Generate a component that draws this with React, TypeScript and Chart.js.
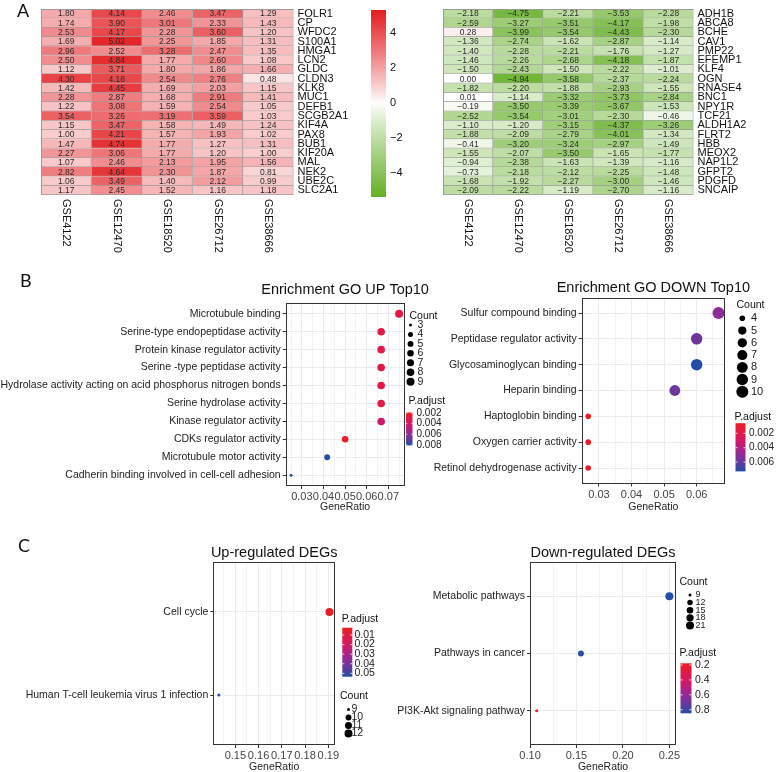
import React, { useEffect, useRef } from 'react';
import { Chart, registerables } from 'chart.js';

Chart.register(...registerables);

const FONT = '"Liberation Sans", Arial, Helvetica, sans-serif';
Chart.defaults.font.family = FONT;

// ---------------- Panel A data ----------------
const studies = ['GSE4122', 'GSE12470', 'GSE18520', 'GSE26712', 'GSE38666'];

const upGenes = ['FOLR1', 'CP', 'WFDC2', 'S100A1', 'HMGA1', 'LCN2', 'GLDC', 'CLDN3', 'KLK8', 'MUC1', 'DEFB1', 'SCGB2A1', 'KIF4A', 'PAX8', 'BUB1', 'KIF20A', 'MAL', 'NEK2', 'UBE2C', 'SLC2A1'];
const upGSE4122 = [1.80, 1.74, 2.53, 1.69, 2.96, 2.50, 1.12, 4.30, 1.42, 2.28, 1.22, 3.54, 1.15, 1.00, 1.47, 2.27, 1.07, 2.82, 1.06, 1.17];
const upGSE12470 = [4.14, 3.90, 4.17, 5.02, 2.52, 4.84, 3.71, 4.18, 4.45, 2.87, 3.08, 3.26, 3.47, 4.21, 4.74, 3.06, 2.46, 4.64, 3.49, 2.45];
const upGSE18520 = [2.46, 3.01, 2.28, 2.25, 3.28, 1.77, 1.80, 2.54, 1.69, 1.68, 1.59, 3.19, 1.58, 1.57, 1.77, 1.77, 2.13, 2.30, 1.40, 1.52];
const upGSE26712 = [3.47, 2.33, 3.60, 1.85, 2.47, 2.60, 1.86, 2.76, 2.03, 2.91, 2.54, 3.59, 1.49, 1.93, 1.27, 1.20, 1.95, 1.87, 2.12, 1.16];
const upGSE38666 = [1.29, 1.43, 1.20, 1.31, 1.35, 1.08, 1.66, 0.48, 1.15, 1.41, 1.05, 1.03, 1.24, 1.02, 1.31, 1.00, 1.56, 0.81, 0.99, 1.18];

const downGenes = ['ADH1B', 'ABCA8', 'BCHE', 'CAV1', 'PMP22', 'EFEMP1', 'KLF4', 'OGN', 'RNASE4', 'BNC1', 'NPY1R', 'TCF21', 'ALDH1A2', 'FLRT2', 'HBB', 'MEOX2', 'NAP1L2', 'GFPT2', 'PDGFD', 'SNCAIP'];
const downGSE4122 = [-2.18, -2.59, 0.28, -1.36, -1.40, -1.46, -1.50, 0.00, -1.82, 0.01, -0.19, -2.52, -1.10, -1.88, -0.41, -1.55, -0.94, -0.73, -1.68, -2.09];
const downGSE12470 = [-4.75, -3.27, -3.99, -2.74, -2.28, -2.26, -2.43, -4.94, -2.20, -1.14, -3.50, -3.54, -1.20, -2.09, -3.20, -2.07, -2.38, -2.18, -1.92, -2.22];
const downGSE18520 = [-2.21, -3.51, -3.54, -1.62, -2.21, -2.68, -1.50, -3.58, -1.88, -3.32, -3.39, -3.01, -3.15, -2.79, -3.24, -3.50, -1.63, -2.12, -2.27, -1.19];
const downGSE26712 = [-3.53, -4.17, -4.43, -2.87, -1.76, -4.18, -2.22, -2.37, -2.93, -3.73, -3.67, -2.30, -4.37, -4.01, -2.97, -1.65, -1.39, -2.25, -3.00, -2.70];
const downGSE38666 = [-2.28, -1.98, -2.30, -1.14, -1.27, -1.87, -1.01, -2.24, -1.55, -2.84, -1.53, -0.46, -3.26, -1.34, -1.49, -1.77, -1.16, -1.48, -1.46, -1.16];

const heatTicks = [-4, -2, 0, 2, 4];
const heatLow = -5.4;
const heatHigh = 5.3;

// ---------------- Panel B data ----------------
const goUpTerms = ['Microtubule binding', 'Serine-type endopeptidase activity', 'Protein kinase regulator activity', 'Serine -type peptidase activity', 'Hydrolase activity acting on acid phosphorus nitrogen bonds', 'Serine hydrolase activity', 'Kinase regulator activity', 'CDKs regulator activity', 'Microtubule motor activity', 'Cadherin binding involved in cell-cell adhesion'];
const goUpRatio = [0.075, 0.0667, 0.0667, 0.0667, 0.0667, 0.0667, 0.0667, 0.05, 0.0417, 0.025];
const goUpCount = [9, 8, 8, 8, 8, 8, 8, 6, 5, 3];
const goUpPadj = [0.0030, 0.0030, 0.0030, 0.0030, 0.0030, 0.0030, 0.0042, 0.0019, 0.0081, 0.0081];
const goUpTicks = [0.03, 0.04, 0.05, 0.06, 0.07];
const goUpCountKeys = [3, 4, 5, 6, 7, 8, 9];
const goUpPadjKeys = [0.002, 0.004, 0.006, 0.008];

const goDownTerms = ['Sulfur compound binding', 'Peptidase regulator activity', 'Glycosaminoglycan binding', 'Heparin binding', 'Haptoglobin binding', 'Oxygen carrier activity', 'Retinol dehydrogenase activity'];
const goDownRatio = [0.0667, 0.06, 0.06, 0.0533, 0.0267, 0.0267, 0.0267];
const goDownCount = [10, 9, 9, 8, 4, 4, 4];
const goDownPadj = [0.0050, 0.0057, 0.0073, 0.0058, 0.0006, 0.0006, 0.0009];
const goDownTicks = [0.03, 0.04, 0.05, 0.06];
const goDownCountKeys = [4, 5, 6, 7, 8, 9, 10];
const goDownPadjKeys = [0.002, 0.004, 0.006];

// ---------------- Panel C data ----------------
const keggUpTerms = ['Cell cycle', 'Human T-cell leukemia virus 1 infection'];
const keggUpRatio = [0.1905, 0.1429];
const keggUpCount = [12, 9];
const keggUpPadj = [0.0024, 0.0535];
const keggUpTicks = [0.15, 0.16, 0.17, 0.18, 0.19];
const keggUpCountKeys = [9, 10, 11, 12];
const keggUpPadjKeys = [0.01, 0.02, 0.03, 0.04, 0.05];

const keggDownTerms = ['Metabolic pathways', 'Pathways in cancer', 'PI3K-Akt signaling pathway'];
const keggDownRatio = [0.25, 0.1548, 0.1071];
const keggDownCount = [21, 13, 9];
const keggDownPadj = [0.848, 0.835, 0.177];
const keggDownTicks = [0.10, 0.15, 0.20, 0.25];
const keggDownCountKeys = [9, 12, 15, 18, 21];
const keggDownPadjKeys = [0.2, 0.4, 0.6, 0.8];

// ---------------- helpers ----------------
type Rect = { left: number; top: number; width: number; height: number };
type Area = { x0: number; y0: number; x1: number; y1: number };
type Letter = { text: string; x: number; y: number };

function mixRgb(a: number[], b: number[], t: number) {
  return `rgb(${a.map((v, i) => Math.round(v + (b[i] - v) * t)).join(',')})`;
}
const WHITE = [255, 255, 255];
const HEAT_RED = [228, 28, 32];
const HEAT_GREEN = [100, 176, 38];
function heatColor(v: number) {
  if (v >= 0) return mixRgb(WHITE, HEAT_RED, Math.pow(Math.min(v / heatHigh, 1), 0.9));
  return mixRgb(WHITE, HEAT_GREEN, Math.pow(Math.min(v / heatLow, 1), 0.9));
}
function fmtSigned(v: number, d: number) {
  return (v < 0 ? '\u2212' : '') + Math.abs(v).toFixed(d);
}

const padjStops: [number, number[]][] = [
  [0, [236, 28, 36]],
  [0.35, [212, 24, 100]],
  [0.62, [152, 40, 150]],
  [0.82, [96, 58, 160]],
  [1, [36, 78, 164]],
];
function padjColor(t: number) {
  const tt = Math.max(0, Math.min(1, t));
  for (let i = 1; i < padjStops.length; i++) {
    const [t1, c1] = padjStops[i];
    const [t0, c0] = padjStops[i - 1];
    if (tt <= t1) return mixRgb(c0, c1, (tt - t0) / (t1 - t0));
  }
  return mixRgb(padjStops[4][1], padjStops[4][1], 0);
}

function drawLetter(ctx: CanvasRenderingContext2D, letter: Letter | undefined, ox: number, oy: number) {
  if (!letter) return;
  ctx.save();
  ctx.font = '18px Lato, "Open Sans", sans-serif';
  ctx.fillStyle = '#111';
  ctx.textAlign = 'left';
  ctx.textBaseline = 'alphabetic';
  ctx.fillText(letter.text, letter.x - ox, letter.y - oy);
  ctx.restore();
}

// ---------------- heatmap ----------------
type HeatSpec = { canvas: Rect; area: Area; genes: string[]; cols: number[][]; labelW: number; letter?: Letter };

function heatDecor(s: HeatSpec) {
  return {
    id: 'heatDecor',
    afterDatasetsDraw(chart: any) {
      const ctx: CanvasRenderingContext2D = chart.ctx;
      const { left, top, right, bottom } = chart.chartArea;
      ctx.save();
      ctx.strokeStyle = '#9a9a9a';
      ctx.lineWidth = 1;
      ctx.beginPath();
      ctx.moveTo(left + 0.5, top);
      ctx.lineTo(left + 0.5, bottom);
      ctx.moveTo(left, top + 0.5);
      ctx.lineTo(right, top + 0.5);
      ctx.stroke();
      ctx.font = `8.5px ${FONT}`;
      ctx.fillStyle = '#2a2a2a';
      ctx.textAlign = 'center';
      ctx.textBaseline = 'middle';
      s.cols.forEach((vals, i) => {
        const meta = chart.getDatasetMeta(i);
        meta.data.forEach((el: any, j: number) => {
          const p = el.getProps(['x', 'y', 'base'], true);
          ctx.fillText(fmtSigned(vals[j], 2), (p.x + p.base) / 2, p.y + 0.5);
        });
      });
      const xs = chart.scales.x;
      ctx.font = `11px ${FONT}`;
      ctx.fillStyle = '#111';
      ctx.textAlign = 'left';
      studies.forEach((name, i) => {
        ctx.save();
        ctx.translate(xs.getPixelForValue(i + 0.5), bottom + 4);
        ctx.rotate(Math.PI / 2);
        ctx.fillText(name, 0, 0);
        ctx.restore();
      });
      ctx.restore();
      drawLetter(ctx, s.letter, s.canvas.left, s.canvas.top);
    },
  };
}

function heatmapConfig(s: HeatSpec): any {
  const { canvas, area } = s;
  return {
    type: 'bar',
    data: {
      labels: s.genes,
      datasets: s.cols.map((vals, i) => ({
        label: studies[i],
        data: s.genes.map(() => 1),
        backgroundColor: vals.map(heatColor),
        borderColor: '#9a9a9a',
        borderWidth: { top: 0, left: 0, right: 1, bottom: 1 },
        borderSkipped: false,
        barPercentage: 1,
        categoryPercentage: 1,
      })),
    },
    options: {
      indexAxis: 'y',
      responsive: false,
      animation: false,
      devicePixelRatio: 1,
      events: [],
      layout: {
        padding: {
          left: area.x0 - canvas.left,
          top: area.y0 - canvas.top,
          right: canvas.left + canvas.width - area.x1 - s.labelW,
          bottom: canvas.top + canvas.height - area.y1,
        },
      },
      scales: {
        x: { stacked: true, min: 0, max: studies.length, display: false },
        y: {
          stacked: true,
          position: 'right',
          grid: { display: false, drawTicks: false },
          border: { display: false },
          ticks: { autoSkip: false, padding: 4, color: '#111', font: { size: 11 } },
          afterFit: (sc: any) => {
            sc.width = s.labelW;
            sc.paddingTop = 0;
            sc.paddingBottom = 0;
          },
        },
      },
      plugins: { legend: { display: false }, tooltip: { enabled: false } },
    },
    plugins: [heatDecor(s)],
  };
}

type BarSpec = { canvas: Rect; area: Area; axisW: number };
function heatLegendConfig(s: BarSpec): any {
  const { canvas, area } = s;
  return {
    type: 'bar',
    data: {
      labels: ['scale'],
      datasets: [
        {
          data: [[heatLow, heatHigh]],
          backgroundColor: (c: any) => {
            const ca = c.chart.chartArea;
            if (!ca) return '#ffffff';
            const g = c.chart.ctx.createLinearGradient(0, ca.bottom, 0, ca.top);
            const n = 24;
            for (let i = 0; i <= n; i++) {
              const v = heatLow + ((heatHigh - heatLow) * i) / n;
              g.addColorStop(i / n, heatColor(v));
            }
            g.addColorStop((0 - heatLow) / (heatHigh - heatLow), heatColor(0));
            return g;
          },
          borderWidth: 0,
          barPercentage: 1,
          categoryPercentage: 1,
        },
      ],
    },
    options: {
      responsive: false,
      animation: false,
      devicePixelRatio: 1,
      events: [],
      layout: {
        padding: {
          left: area.x0 - canvas.left,
          top: area.y0 - canvas.top,
          right: canvas.left + canvas.width - area.x1 - s.axisW,
          bottom: canvas.top + canvas.height - area.y1,
        },
      },
      scales: {
        x: { display: false },
        y: {
          min: heatLow,
          max: heatHigh,
          position: 'right',
          afterBuildTicks: (sc: any) => {
            sc.ticks = heatTicks.map((v) => ({ value: v }));
          },
          ticks: { callback: (v: number) => fmtSigned(v, 0), padding: 4, font: { size: 11 }, color: '#111' },
          grid: { display: false, drawTicks: false },
          border: { display: false },
          afterFit: (sc: any) => {
            sc.width = s.axisW;
            sc.paddingTop = 0;
            sc.paddingBottom = 0;
          },
        },
      },
      plugins: { legend: { display: false }, tooltip: { enabled: false } },
    },
  };
}

// ---------------- dot plots ----------------
type CountLegend = { titleX: number; titleY: number; dotX: number; textX: number; y0: number; step: number; font: number };
type PadjLegend = { titleX: number; titleY: number; x: number; w: number; top: number; bottom: number; textX: number; font: number };
type DotSpec = {
  canvas: Rect;
  area: Area;
  title: string;
  titleY: number;
  axisTitleY: number;
  terms: string[];
  ratio: number[];
  count: number[];
  padj: number[];
  ticks: number[];
  countKeys: number[];
  padjKeys: number[];
  rMin: number;
  rMax: number;
  countLegend: CountLegend;
  padjLegend: PadjLegend;
  letter?: Letter;
};

function dotplotConfig(s: DotSpec): any {
  const { canvas, area } = s;
  const lo = Math.min(...s.ratio);
  const hi = Math.max(...s.ratio);
  const xmin = lo - (hi - lo) * 0.05;
  const xmax = hi + (hi - lo) * 0.05;
  const step = s.ticks[1] - s.ticks[0];
  const minors = [s.ticks[0] - step / 2, ...s.ticks.map((t) => t + step / 2)].filter((v) => v > xmin && v < xmax);
  const gridVals = [...s.ticks, ...minors].sort((a, b) => a - b);
  const isMajor = (v: number) => s.ticks.some((t) => Math.abs(t - v) < step * 1e-3);
  const cMin = Math.min(...s.count);
  const cMax = Math.max(...s.count);
  const pMin = Math.min(...s.padj);
  const pMax = Math.max(...s.padj);
  const radius = (c: number) => s.rMin + (s.rMax - s.rMin) * Math.sqrt((c - cMin) / (cMax - cMin));
  const colour = (p: number) => padjColor((p - pMin) / (pMax - pMin));
  const axisTitleSize = 10.5;
  const axisH = s.axisTitleY + axisTitleSize / 2 - area.y1;
  const yW = area.x0 - canvas.left;
  const n = s.terms.length;

  const decor = {
    id: 'dotDecor',
    afterDatasetsDraw(chart: any) {
      const ctx: CanvasRenderingContext2D = chart.ctx;
      const { left, top, right, bottom } = chart.chartArea;
      const ox = canvas.left;
      const oy = canvas.top;
      ctx.save();
      ctx.strokeStyle = '#333333';
      ctx.lineWidth = 1;
      ctx.strokeRect(Math.round(left) + 0.5, Math.round(top) + 0.5, Math.round(right) - Math.round(left) - 1, Math.round(bottom) - Math.round(top) - 1);
      ctx.fillStyle = '#111';
      ctx.font = `14.5px ${FONT}`;
      ctx.textAlign = 'center';
      ctx.textBaseline = 'middle';
      ctx.fillText(s.title, (left + right) / 2, s.titleY - oy);
      const cl = s.countLegend;
      ctx.textAlign = 'left';
      ctx.font = `10.5px ${FONT}`;
      ctx.fillText('Count', cl.titleX - ox, cl.titleY - oy);
      ctx.font = `${cl.font}px ${FONT}`;
      s.countKeys.forEach((k, i) => {
        const y = cl.y0 + i * cl.step - oy;
        ctx.fillStyle = '#000';
        ctx.beginPath();
        ctx.arc(cl.dotX - ox, y, radius(k), 0, Math.PI * 2);
        ctx.fill();
        ctx.fillStyle = '#222';
        ctx.fillText(String(k), cl.textX - ox, y);
      });
      const pl = s.padjLegend;
      ctx.fillStyle = '#111';
      ctx.font = `10.5px ${FONT}`;
      ctx.fillText('P.adjust', pl.titleX - ox, pl.titleY - oy);
      const g = ctx.createLinearGradient(0, pl.top - oy, 0, pl.bottom - oy);
      for (let i = 0; i <= 20; i++) g.addColorStop(i / 20, padjColor(i / 20));
      ctx.fillStyle = g;
      ctx.fillRect(pl.x - ox, pl.top - oy, pl.w, pl.bottom - pl.top);
      ctx.font = `${pl.font}px ${FONT}`;
      s.padjKeys.forEach((k) => {
        const y = pl.top + ((k - pMin) / (pMax - pMin)) * (pl.bottom - pl.top) - oy;
        ctx.strokeStyle = '#ffffff';
        ctx.lineWidth = 0.8;
        ctx.beginPath();
        ctx.moveTo(pl.x - ox, y);
        ctx.lineTo(pl.x - ox + pl.w / 5, y);
        ctx.moveTo(pl.x - ox + pl.w, y);
        ctx.lineTo(pl.x - ox + (pl.w * 4) / 5, y);
        ctx.stroke();
        ctx.fillStyle = '#222';
        ctx.fillText(String(k), pl.textX - ox, y);
      });
      ctx.restore();
      drawLetter(ctx, s.letter, ox, oy);
    },
  };

  return {
    type: 'bubble',
    data: {
      datasets: [
        {
          data: s.terms.map((_, i) => ({ x: s.ratio[i], y: i, r: radius(s.count[i]) })),
          backgroundColor: s.padj.map(colour),
          borderWidth: 0,
          hoverRadius: 0,
          hoverBorderWidth: 0,
        },
      ],
    },
    options: {
      responsive: false,
      animation: false,
      devicePixelRatio: 1,
      events: [],
      layout: {
        padding: {
          left: 0,
          top: area.y0 - canvas.top,
          right: canvas.left + canvas.width - area.x1,
          bottom: canvas.top + canvas.height - area.y1 - axisH,
        },
      },
      scales: {
        x: {
          type: 'linear',
          min: xmin,
          max: xmax,
          afterBuildTicks: (sc: any) => {
            sc.ticks = gridVals.map((v) => ({ value: v }));
          },
          ticks: {
            autoSkip: false,
            maxRotation: 0,
            padding: 1.5,
            color: '#444',
            font: { size: 11 },
            callback: (v: number) => (isMajor(v) ? v.toFixed(2) : ''),
          },
          grid: {
            color: '#ebebeb',
            lineWidth: (c: any) => (c.tick && isMajor(c.tick.value) ? 1 : 0.6),
            tickColor: (c: any) => (c.tick && isMajor(c.tick.value) ? '#333' : 'rgba(0,0,0,0)'),
            tickLength: 3,
          },
          border: { display: false },
          title: { display: true, text: 'GeneRatio', color: '#222', padding: 0, font: { size: axisTitleSize, lineHeight: 1 } },
          afterFit: (sc: any) => {
            sc.height = axisH;
            sc.paddingLeft = 0;
            sc.paddingRight = 0;
          },
        },
        y: {
          type: 'linear',
          reverse: true,
          min: -0.6,
          max: n - 0.4,
          afterBuildTicks: (sc: any) => {
            sc.ticks = s.terms.map((_, i) => ({ value: i }));
          },
          ticks: {
            autoSkip: false,
            padding: 2,
            color: '#222',
            font: { size: 10.5 },
            callback: (v: number) => s.terms[v] ?? '',
          },
          grid: { color: '#ebebeb', lineWidth: 1, tickColor: '#333', tickLength: 3 },
          border: { display: false },
          afterFit: (sc: any) => {
            sc.width = yW;
            sc.paddingTop = 0;
            sc.paddingBottom = 0;
          },
        },
      },
      plugins: { legend: { display: false }, tooltip: { enabled: false } },
    },
    plugins: [decor],
  };
}

// ---------------- layout specs ----------------
const A_LEFT: HeatSpec = {
  canvas: { left: 0, top: 0, width: 365, height: 290 },
  area: { x0: 41, y0: 9, x1: 293.5, y1: 195 },
  genes: upGenes,
  cols: [upGSE4122, upGSE12470, upGSE18520, upGSE26712, upGSE38666],
  labelW: 60,
  letter: { text: 'A', x: 17, y: 17 },
};
const A_RIGHT: HeatSpec = {
  canvas: { left: 385, top: 0, width: 391, height: 290 },
  area: { x0: 443, y0: 9, x1: 693.5, y1: 195 },
  genes: downGenes,
  cols: [downGSE4122, downGSE12470, downGSE18520, downGSE26712, downGSE38666],
  labelW: 70,
};
const A_SCALE: BarSpec = {
  canvas: { left: 360, top: 0, width: 60, height: 290 },
  area: { x0: 371, y0: 10, x1: 386, y1: 197 },
  axisW: 24,
};

const B_LEFT: DotSpec = {
  canvas: { left: 0, top: 270, width: 470, height: 250 },
  area: { x0: 285.7, y0: 303, x1: 404.5, y1: 486 },
  title: 'Enrichment GO UP Top10',
  titleY: 290,
  axisTitleY: 507,
  terms: goUpTerms,
  ratio: goUpRatio,
  count: goUpCount,
  padj: goUpPadj,
  ticks: goUpTicks,
  countKeys: goUpCountKeys,
  padjKeys: goUpPadjKeys,
  rMin: 1.5,
  rMax: 4,
  countLegend: { titleX: 409.5, titleY: 316, dotX: 410.5, textX: 417.5, y0: 325, step: 9.45, font: 10.5 },
  padjLegend: { titleX: 408.5, titleY: 401, x: 406, w: 6.5, top: 412.5, bottom: 445.5, textX: 416.5, font: 10 },
  letter: { text: 'B', x: 20, y: 287 },
};
const B_RIGHT: DotSpec = {
  canvas: { left: 420, top: 270, width: 356, height: 250 },
  area: { x0: 581.7, y0: 297.5, x1: 725, y1: 483.5 },
  title: 'Enrichment GO DOWN Top10',
  titleY: 287.7,
  axisTitleY: 507,
  terms: goDownTerms,
  ratio: goDownRatio,
  count: goDownCount,
  padj: goDownPadj,
  ticks: goDownTicks,
  countKeys: goDownCountKeys,
  padjKeys: goDownPadjKeys,
  rMin: 2.8,
  rMax: 6,
  countLegend: { titleX: 736.5, titleY: 305, dotX: 742.3, textX: 751, y0: 318.3, step: 12.25, font: 11 },
  padjLegend: { titleX: 734.5, titleY: 416.7, x: 735.5, w: 10, top: 423.2, bottom: 471.4, textX: 749, font: 10 },
};
const C_LEFT: DotSpec = {
  canvas: { left: 0, top: 530, width: 395, height: 242 },
  area: { x0: 213.3, y0: 562, x1: 335, y1: 745 },
  title: 'Up-regulated DEGs',
  titleY: 552.7,
  axisTitleY: 766.7,
  terms: keggUpTerms,
  ratio: keggUpRatio,
  count: keggUpCount,
  padj: keggUpPadj,
  ticks: keggUpTicks,
  countKeys: keggUpCountKeys,
  padjKeys: keggUpPadjKeys,
  rMin: 1.5,
  rMax: 4,
  countLegend: { titleX: 340, titleY: 696, dotX: 348.5, textX: 351.5, y0: 709.5, step: 8, font: 10.5 },
  padjLegend: { titleX: 341.7, titleY: 619, x: 342.3, w: 10, top: 627.7, bottom: 676.7, textX: 354.5, font: 10.5 },
  letter: { text: 'C', x: 18, y: 552 },
};
const C_RIGHT: DotSpec = {
  canvas: { left: 395, top: 530, width: 381, height: 242 },
  area: { x0: 530, y0: 562, x1: 676, y1: 745 },
  title: 'Down-regulated DEGs',
  titleY: 552.7,
  axisTitleY: 766.7,
  terms: keggDownTerms,
  ratio: keggDownRatio,
  count: keggDownCount,
  padj: keggDownPadj,
  ticks: keggDownTicks,
  countKeys: keggDownCountKeys,
  padjKeys: keggDownPadjKeys,
  rMin: 1.5,
  rMax: 4,
  countLegend: { titleX: 679.5, titleY: 581.7, dotX: 690, textX: 695.5, y0: 595, step: 7.6, font: 9 },
  padjLegend: { titleX: 679.5, titleY: 653.3, x: 680.5, w: 11, top: 663.3, bottom: 713.3, textX: 695, font: 10.5 },
};

// ---------------- components ----------------
function ChartBox({ rect, build }: { rect: Rect; build: () => any }) {
  const ref = useRef<HTMLCanvasElement>(null);
  useEffect(() => {
    if (!ref.current) return;
    const chart = new Chart(ref.current, build());
    return () => chart.destroy();
  }, []);
  return (
    <canvas
      ref={ref}
      width={rect.width}
      height={rect.height}
      style={{ position: 'absolute', left: rect.left, top: rect.top, width: rect.width, height: rect.height }}
    />
  );
}

export default function App() {
  return (
    <div style={{ position: 'absolute', left: 0, top: 0, width: 776, height: 772, background: '#ffffff', overflow: 'hidden' }}>
      <ChartBox rect={A_LEFT.canvas} build={() => heatmapConfig(A_LEFT)} />
      <ChartBox rect={A_SCALE.canvas} build={() => heatLegendConfig(A_SCALE)} />
      <ChartBox rect={A_RIGHT.canvas} build={() => heatmapConfig(A_RIGHT)} />
      <ChartBox rect={B_LEFT.canvas} build={() => dotplotConfig(B_LEFT)} />
      <ChartBox rect={B_RIGHT.canvas} build={() => dotplotConfig(B_RIGHT)} />
      <ChartBox rect={C_LEFT.canvas} build={() => dotplotConfig(C_LEFT)} />
      <ChartBox rect={C_RIGHT.canvas} build={() => dotplotConfig(C_RIGHT)} />
    </div>
  );
}
